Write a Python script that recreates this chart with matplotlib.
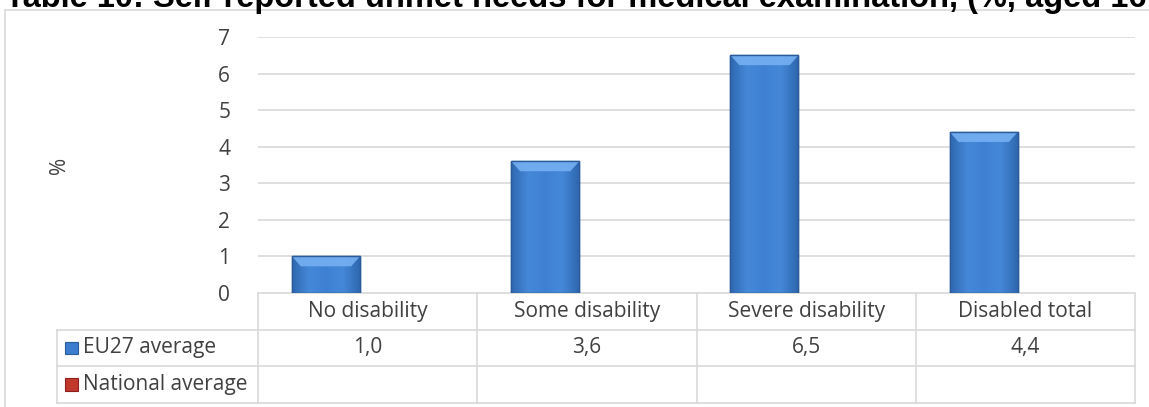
import numpy as np
import matplotlib.pyplot as plt
from matplotlib.patches import Rectangle, Polygon
from matplotlib.colors import LinearSegmentedColormap

# data
categories = ["No disability", "Some disability", "Severe disability", "Disabled total"]
eu27 = [1.0, 3.6, 6.5, 4.4]
national = [None, None, None, None]
series_names = ["EU27 average", "National average"]
title = "Table 10: Self-reported unmet needs for medical examination, (%, aged 16"

plt.rcParams['font.family'] = ['Open Sans', 'DejaVu Sans']
grid_c = '#D9D9D9'
txt_c = '#404040'
fs = 15

W, H = 1149, 407
fig = plt.figure(figsize=(W / 100, H / 100), dpi=100)

# outer chart frame
fig.patches.append(Rectangle((5 / W, -0.01), 1.2, 1 - 10 / H + 0.01, transform=fig.transFigure,
                             fill=False, edgecolor=grid_c, lw=1.2))
# title is clipped at the top edge, as in the source
fig.text(5 / W, 1 - 7 / H, title, fontsize=23.5, fontweight='bold', family='Liberation Sans',
         va='baseline', ha='left', color='black')

# plot area
x0, x1 = 258 / W, 1135 / W
ax = fig.add_axes([x0, 1 - 293 / H, x1 - x0, (293 - 37) / H])
x = np.arange(len(categories))
off, bw = -0.19, 0.31
bars = ax.bar(x + off, eu27, width=bw, color='#3C7DD0', edgecolor='#2B5C99', lw=1, zorder=3)

cmap = LinearSegmentedColormap.from_list('b', ['#2F68B0', '#4588D8', '#3F80D2', '#4588D8', '#2F68B0'])
for b in bars:
    bx, by, bwid, bh = b.get_x(), b.get_y(), b.get_width(), b.get_height()
    im = ax.imshow(np.linspace(0, 1, 100).reshape(1, -1), cmap=cmap, aspect='auto',
                   extent=[bx, bx + bwid, by, by + bh], zorder=3.5)
    im.set_clip_path(b)
    # lighter top bevel
    d = min(0.27, bh * 0.3)
    ins = bwid * 0.13
    top = Polygon([(bx, by + bh), (bx + bwid, by + bh), (bx + bwid - ins, by + bh - d), (bx + ins, by + bh - d)],
                  closed=True, facecolor='#75B0F2', edgecolor='none', alpha=0.9, zorder=3.6)
    ax.add_patch(top)
    ax.add_patch(Rectangle((bx, by), bwid, bh, fill=False, edgecolor='#2B5C99', lw=1, zorder=3.7))

ax.set_xlim(-0.5, len(categories) - 0.5)
ax.set_ylim(0, 7)
ax.set_yticks(range(0, 8))
ax.tick_params(axis='y', length=0, labelsize=fs, labelcolor=txt_c, pad=20)
ax.set_xticks([])
ax.grid(axis='y', color=grid_c, lw=1.2, zorder=0)
for s in ax.spines.values():
    s.set_visible(False)
fig.text(60 / W, 1 - 165 / H, '%', rotation=90, fontsize=fs, color=txt_c, ha='center', va='center')

# data table below
tl = 57 / W
tax = fig.add_axes([tl, 1 - 403 / H, x1 - tl, 110 / H])
lab_w = (258 - 57) / 219
tax.set_xlim(-0.5 - lab_w, len(categories) - 0.5)
tax.set_ylim(3, 0)
tax.axis('off')
lw = 1.2
tax.plot([-0.5, len(categories) - 0.5], [0, 0], color=grid_c, lw=lw)
for r in [1, 2, 3]:
    tax.plot([-0.5 - lab_w, len(categories) - 0.5], [r, r], color=grid_c, lw=lw, clip_on=False)
tax.plot([-0.5 - lab_w] * 2, [1, 3], color=grid_c, lw=lw, clip_on=False)
for c in range(len(categories) + 1):
    tax.plot([c - 0.5] * 2, [0, 3], color=grid_c, lw=lw, clip_on=False)

for i, cat in enumerate(categories):
    tax.text(i, 0.5, cat, ha='center', va='center', fontsize=fs, color=txt_c)
    tax.text(i, 1.5, f"{eu27[i]:.1f}".replace('.', ','), ha='center', va='center', fontsize=fs, color=txt_c)
    if national[i] is not None:
        tax.text(i, 2.5, f"{national[i]:.1f}".replace('.', ','), ha='center', va='center', fontsize=fs, color=txt_c)

key_colors = ['#3C7DD0', '#C0392B']
key_edges = ['#2B5C99', '#8E1E1E']
for r, (name, kc, ke) in enumerate(zip(series_names, key_colors, key_edges)):
    kx = -0.5 - lab_w + 8 / 219
    tax.add_patch(Rectangle((kx, 1.5 + r - 0.17), 13 / 219, 0.34, facecolor=kc, edgecolor=ke, lw=0.8))
    tax.text(kx + 18 / 219, 1.5 + r, name, ha='left', va='center', fontsize=fs, color=txt_c)

fig.savefig('out.png', dpi=100)
